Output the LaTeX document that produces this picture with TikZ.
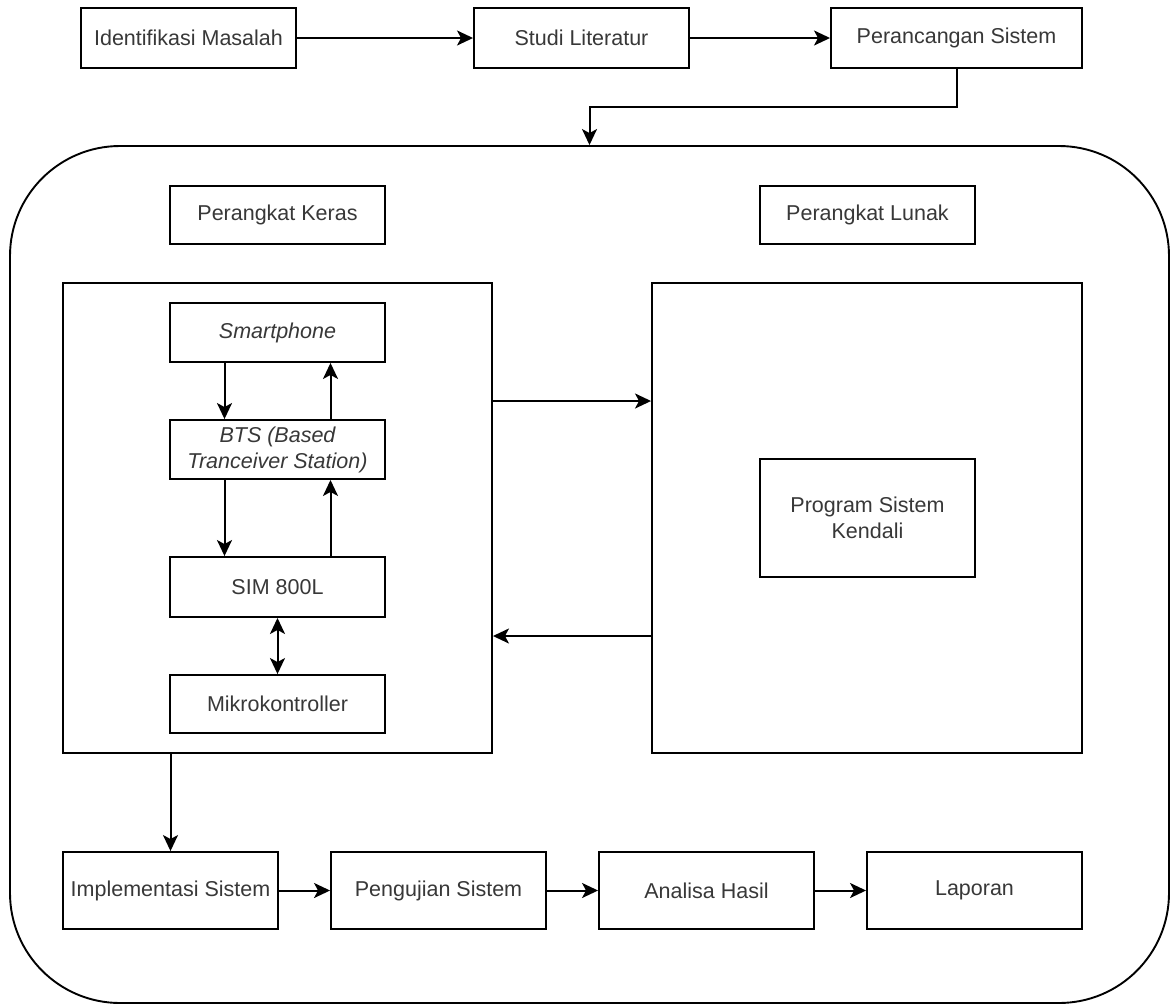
\documentclass[tikz,border=0pt]{standalone}
\usepackage{fontspec}
\setmainfont{Liberation Sans}
\usetikzlibrary{arrows.meta}
\begin{document}
\begin{tikzpicture}[x=1pt,y=-1pt,
  box/.style={draw=black, line width=1.9pt, inner sep=0pt, minimum width=215pt, minimum height=59pt,
    text=black!78, font=\fontsize{21.5}{26}\selectfont, align=center},
  cont/.style={draw=black, line width=1.9pt, inner sep=0pt},
  tip/.tip={Stealth[length=16pt,width=15pt,inset=4pt]},
  arr/.style={draw=black, line width=2pt, -tip},
  biarr/.style={draw=black, line width=2pt, tip-tip}]
\useasboundingbox[fill=white] (0,0) rectangle (1173,1005);

% outer rounded container
\node[cont, rounded corners=110pt, minimum width=1159pt, minimum height=857pt] (outer) at (589.5,574.5) {};

% top row
\node[box, minimum height=60pt] (idm) at (188.5,38) {Identifikasi Masalah};
\node[box, minimum height=60pt] (studi) at (581.5,38) {Studi Literatur};
\node[box, minimum height=60pt, minimum width=251pt] (per) at (956.5,38) {Perancangan Sistem};

% headings
\node[box, minimum height=58pt] (pk) at (277.5,215) {Perangkat Keras};
\node[box, minimum height=58pt] (pl) at (867.5,215) {Perangkat Lunak};

% containers
\node[cont, minimum width=429pt, minimum height=470pt] (hw) at (277.5,518) {};
\node[cont, minimum width=430pt, minimum height=470pt] (sw) at (867,518) {};

% hardware chain
\node[box] (sm) at (277.5,332.5) {\itshape Smartphone};
\node[box] (bts) at (277.5,449.5) {\itshape BTS (Based\\\itshape Tranceiver Station)};
\node[box, minimum height=60pt] (sim) at (277.5,587) {SIM 800L};
\node[box, minimum height=58pt] (mik) at (277.5,704) {Mikrokontroller};

% software
\node[box, minimum height=118pt] (prog) at (867.5,518) {Program Sistem\\Kendali};

% bottom row
\node[box, minimum height=77pt] (imp) at (170.5,890.5) {Implementasi Sistem};
\node[box, minimum height=77pt] (pen) at (438.5,890.5) {Pengujian Sistem};
\node[box, minimum height=77pt] (ana) at (706.5,890.5) {Analisa Hasil};
\node[box, minimum height=77pt] (lap) at (974.5,890.5) {Laporan};

% connectors top
\draw[arr] (idm) -- (studi);
\draw[arr] (studi) -- (per);
\coordinate (bend) at (589.5,107);
\draw[arr] (per.south) |- (bend) -- (outer.north);

% hardware internal
\draw[arr] ([xshift=-53pt]sm.south) -- ([xshift=-53pt]bts.north);
\draw[arr] ([xshift=53pt]bts.north) -- ([xshift=53pt]sm.south);
\draw[arr] ([xshift=-53pt]bts.south) -- ([xshift=-53pt]sim.north);
\draw[arr] ([xshift=53pt]sim.north) -- ([xshift=53pt]bts.south);
\draw[biarr] (sim) -- (mik);

% hw <-> sw
\draw[arr] ([yshift=117pt]hw.east) -- ([yshift=117pt]sw.west);
\draw[arr] ([yshift=-118pt]sw.west) -- ([yshift=-118pt]hw.east);

% hw -> implementasi
\draw[arr] (hw.south -| imp.north) -- (imp.north);

% bottom row
\draw[arr] (imp) -- (pen);
\draw[arr] (pen) -- (ana);
\draw[arr] (ana) -- (lap);
\end{tikzpicture}
\end{document}
